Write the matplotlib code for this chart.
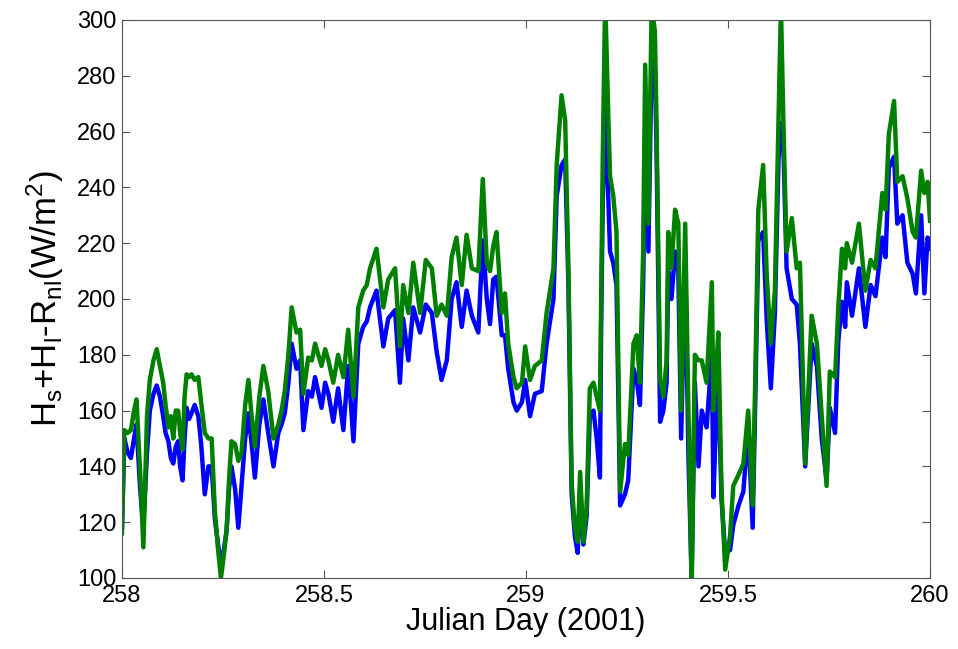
import numpy as np
import matplotlib
matplotlib.use("Agg")
from matplotlib import pyplot as plt

# Julian day, and the two heat-flux series (W/m^2)
day = [258.000, 258.006, 258.014, 258.022, 258.030, 258.036, 258.045, 258.053, 258.062, 258.069,
       258.078, 258.086, 258.094, 258.102, 258.108, 258.115, 258.121, 258.127, 258.133, 258.139,
       258.144, 258.150, 258.155, 258.160, 258.166, 258.172, 258.180, 258.189, 258.196, 258.205,
       258.214, 258.222, 258.230, 258.238, 258.245, 258.252, 258.259, 258.265, 258.271, 258.280,
       258.288, 258.296, 258.305, 258.313, 258.321, 258.329, 258.340, 258.350, 258.362, 258.375,
       258.387, 258.395, 258.403, 258.412, 258.420, 258.432, 258.441, 258.449, 258.461, 258.470,
       258.478, 258.494, 258.503, 258.511, 258.523, 258.535, 258.548, 258.560, 258.573, 258.585,
       258.597, 258.606, 258.614, 258.630, 258.647, 258.659, 258.676, 258.688, 258.696, 258.709,
       258.721, 258.738, 258.752, 258.767, 258.779, 258.791, 258.804, 258.816, 258.828, 258.841,
       258.853, 258.866, 258.882, 258.893, 258.903, 258.911, 258.919, 258.927, 258.940, 258.948,
       258.956, 258.969, 258.977, 258.990, 258.998, 259.010, 259.022, 259.039, 259.051, 259.068,
       259.076, 259.088, 259.097, 259.105, 259.113, 259.121, 259.128, 259.134, 259.142, 259.150,
       259.158, 259.167, 259.175, 259.183, 259.186, 259.190, 259.196, 259.204, 259.208, 259.216,
       259.224, 259.233, 259.245, 259.253, 259.266, 259.274, 259.282, 259.290, 259.295, 259.303,
       259.311, 259.319, 259.323, 259.332, 259.340, 259.348, 259.352, 259.360, 259.369, 259.377,
       259.384, 259.394, 259.402, 259.410, 259.418, 259.427, 259.435, 259.447, 259.460, 259.464,
       259.472, 259.476, 259.484, 259.493, 259.505, 259.513, 259.526, 259.538, 259.550, 259.561,
       259.567, 259.575, 259.587, 259.596, 259.606, 259.616, 259.625, 259.631, 259.637, 259.645,
       259.658, 259.670, 259.678, 259.691, 259.707, 259.720, 259.732, 259.744, 259.752, 259.765,
       259.773, 259.782, 259.790, 259.794, 259.807, 259.824, 259.840, 259.853, 259.865, 259.873,
       259.882, 259.890, 259.898, 259.911, 259.919, 259.932, 259.944, 259.957, 259.965, 259.978,
       259.986, 259.994, 260.000]

blue = [118, 150, 145, 143, 150, 155, 132, 118, 145, 160,
        166, 169, 165, 158, 152, 149, 143, 141, 147, 149,
        140, 135, 150, 161, 157, 159, 162, 158, 148, 130,
        140, 140, 121, 112, 104, 110, 117, 132, 140, 132,
        118, 133, 150, 159, 148, 136, 155, 164, 152, 140,
        152, 155, 159, 170, 184, 175, 178, 153, 167, 165,
        172, 161, 170, 166, 156, 168, 153, 176, 149, 184,
        190, 192, 197, 203, 183, 193, 196, 170, 193, 178,
        197, 188, 198, 195, 181, 171, 178, 200, 206, 190,
        203, 194, 188, 221, 200, 191, 207, 208, 187, 187,
        175, 163, 160, 163, 171, 158, 166, 167, 184, 200,
        237, 248, 250, 205, 130, 115, 109, 132, 112, 122,
        158, 160, 150, 136, 190, 235, 268, 235, 217, 213,
        205, 126, 130, 135, 175, 171, 162, 205, 260, 217,
        288, 282, 255, 156, 160, 170, 210, 200, 217, 210,
        150, 215, 144, 100, 170, 140, 160, 154, 180, 129,
        164, 172, 128, 109, 110, 119, 126, 131, 154, 118,
        160, 221, 224, 192, 168, 195, 250, 263, 255, 211,
        200, 198, 184, 140, 184, 176, 150, 135, 161, 152,
        185, 199, 190, 206, 194, 211, 190, 205, 201, 211,
        222, 215, 247, 251, 227, 230, 213, 209, 202, 230,
        202, 222, 218]

green = [116, 153, 152, 153, 160, 164, 138, 111, 158, 171,
         178, 182, 176, 170, 162, 154, 158, 150, 160, 160,
         152, 146, 165, 173, 172, 173, 171, 172, 163, 152,
         150, 150, 124, 110, 100, 108, 117, 135, 149, 148,
         142, 145, 162, 171, 158, 147, 165, 176, 167, 150,
         155, 160, 167, 180, 197, 188, 189, 166, 179, 178,
         184, 176, 182, 178, 170, 180, 172, 189, 165, 197,
         203, 205, 211, 218, 197, 207, 211, 183, 205, 195,
         213, 195, 214, 211, 194, 198, 194, 215, 222, 205,
         223, 211, 210, 243, 213, 210, 219, 224, 195, 202,
         184, 172, 168, 170, 183, 171, 176, 178, 195, 211,
         248, 273, 264, 211, 134, 118, 113, 138, 113, 125,
         168, 170, 165, 160, 200, 251, 308, 264, 244, 237,
         224, 131, 148, 144, 184, 187, 170, 217, 284, 227,
         305, 296, 264, 171, 165, 178, 224, 211, 232, 227,
         160, 227, 160, 96, 180, 178, 178, 170, 206, 160,
         178, 188, 131, 103, 115, 133, 137, 141, 160, 126,
         168, 232, 248, 208, 184, 203, 264, 305, 264, 217,
         229, 211, 213, 141, 194, 184, 158, 133, 174, 172,
         197, 218, 211, 220, 213, 227, 203, 214, 211, 224,
         238, 232, 259, 271, 242, 244, 236, 224, 222, 246,
         238, 242, 228]

plt.rcParams['font.family'] = ['Liberation Sans', 'DejaVu Sans']
plt.rcParams['mathtext.fontset'] = 'custom'
plt.rcParams['mathtext.rm'] = 'Liberation Sans'
plt.rcParams['mathtext.it'] = 'Liberation Sans:italic'

fig = plt.figure(figsize=(9.58, 6.49), dpi=100)
ax = fig.add_axes([0.1273, 0.1094, 0.8435, 0.8598])

ax.plot(day, blue, color='#0000ff', lw=3.2)
ax.plot(day, green, color='#008000', lw=3.2)

ax.set_xlim(258, 260)
ax.set_ylim(100, 300)
ax.set_xticks([258, 258.5, 259, 259.5, 260])
ax.set_xticklabels(['258', '258.5', '259', '259.5', '260'])
ax.set_yticks(np.arange(100, 301, 20))

ax.tick_params(direction='in', length=6, width=0.8, top=True, right=True,
               labelsize=17, color='#555555')
ax.tick_params(axis='x', pad=5)
ax.tick_params(axis='y', pad=4)
for s in ax.spines.values():
    s.set_color('#555555')
    s.set_linewidth(0.8)

ax.set_xlabel('Julian Day (2001)', fontsize=22, labelpad=0)
ax.set_ylabel(r'H$_\mathregular{s}$+H$_\mathregular{l}$-R$_\mathregular{nl}$(W/m$^\mathregular{2}$)',
              fontsize=25, labelpad=8)

fig.savefig('out.png', dpi=100)
